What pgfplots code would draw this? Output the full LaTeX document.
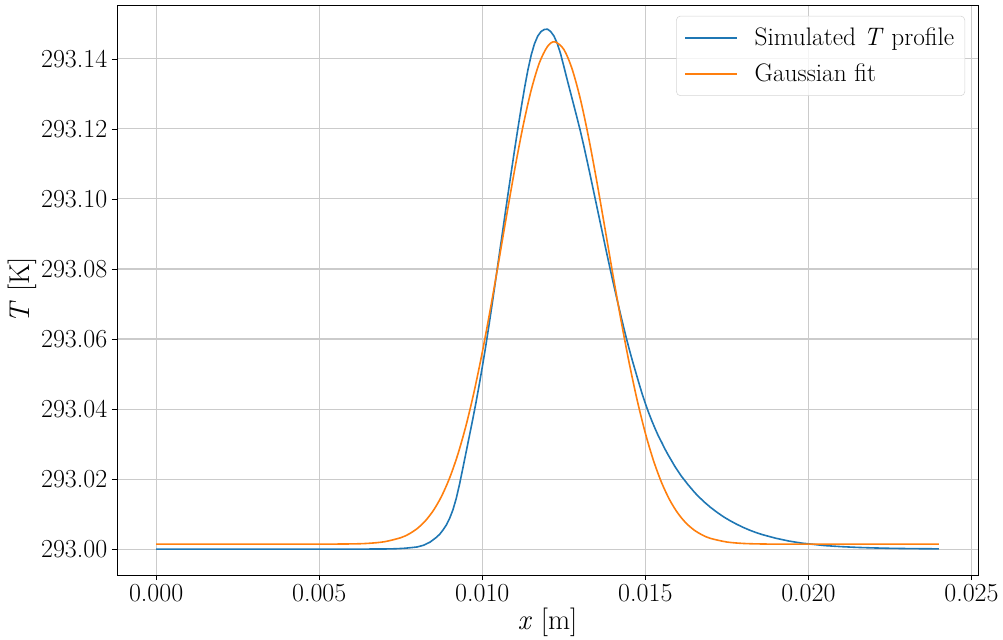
\documentclass[border=0pt]{standalone}
\usepackage{fontspec}
\usepackage{pgfplots}
\usepackage{pgfplotstable}
\pgfplotsset{compat=1.18}
\definecolor{tabblue}{HTML}{1F77B4}
\definecolor{taborange}{HTML}{FF7F0E}
\definecolor{gridgray}{HTML}{CBCBCB}
\definecolor{leggray}{HTML}{D5D5D5}

\pgfplotstableread{
x T
0.0000 293.0000
0.0020 293.0000
0.0040 293.0000
0.0060 293.0000
0.0065 293.00001
0.0070 293.00003
0.0072 293.00006
0.0074 293.00012
0.0076 293.00022
0.0078 293.0004
0.0080 293.0006
0.0082 293.0011
0.0084 293.0020
0.0086 293.0034
0.0087 293.0043
0.0088 293.0055
0.0089 293.0069
0.0090 293.0088
0.0091 293.0112
0.0092 293.0144
0.0093 293.0184
0.0094 293.0229
0.0095 293.0275
0.0096 293.0321
0.0097 293.0367
0.0098 293.0415
0.0099 293.0466
0.0100 293.0520
0.0101 293.0576
0.0102 293.0636
0.0103 293.0698
0.0104 293.0762
0.0105 293.0827
0.0106 293.0892
0.0107 293.0957
0.0108 293.1021
0.0109 293.1084
0.0110 293.1146
0.0111 293.1206
0.0112 293.1264
0.0113 293.1319
0.0114 293.1369
0.0115 293.1411
0.0116 293.1443
0.0117 293.1465
0.0118 293.1478
0.0119 293.1484
0.0120 293.1485
0.0121 293.1478
0.0122 293.1465
0.0123 293.1444
0.0124 293.1415
0.0125 293.1379
0.0126 293.1342
0.0127 293.1306
0.0128 293.1270
0.0129 293.1234
0.0130 293.1197
0.0131 293.1157
0.0132 293.1115
0.0133 293.1072
0.0134 293.1028
0.0135 293.0984
0.0136 293.0940
0.0137 293.0896
0.0138 293.0852
0.0139 293.0809
0.0140 293.0767
0.0141 293.0726
0.0142 293.0686
0.0143 293.0647
0.0144 293.0609
0.0145 293.0573
0.0146 293.0539
0.0147 293.0507
0.0148 293.0475
0.0149 293.0444
0.0150 293.0416
0.0151 293.0390
0.0152 293.0366
0.0153 293.0344
0.0154 293.0323
0.0155 293.0305
0.0156 293.0286
0.0157 293.0269
0.0158 293.0253
0.0159 293.0237
0.0160 293.0223
0.0161 293.0209
0.0162 293.0197
0.0163 293.0185
0.0164 293.0174
0.0165 293.0163
0.0166 293.0153
0.0168 293.0135
0.0170 293.0119
0.0172 293.0105
0.0174 293.0092
0.0176 293.0081
0.0178 293.0071
0.0180 293.0062
0.0182 293.0054
0.0184 293.0047
0.0186 293.0041
0.0188 293.0036
0.0190 293.0031
0.0192 293.0027
0.0194 293.0023
0.0196 293.0020
0.0198 293.0017
0.0200 293.0015
0.0202 293.0013
0.0205 293.0010
0.0210 293.0007
0.0215 293.00048
0.0220 293.00033
0.0225 293.00022
0.0230 293.00015
0.0235 293.0001
0.0240 293.00007
}\simdata

\pgfplotstableread{
x T
0.0000 293.0014
0.0040 293.0014
0.0050 293.00141
0.0060 293.00148
0.0065 293.00164
0.0070 293.00210
0.0075 293.00325
0.00775 293.0043
0.0080 293.00583
0.00825 293.00801
0.0085 293.01102
0.00875 293.01506
0.0090 293.02034
0.00925 293.02703
0.0095 293.03522
0.00975 293.04498
0.0100 293.05620
0.01025 293.06865
0.0105 293.08192
0.01075 293.09549
0.0110 293.10870
0.01125 293.12081
0.0115 293.13108
0.01175 293.13885
0.0120 293.14355
0.01222 293.1449
0.0125 293.14272
0.01275 293.13724
0.0130 293.12883
0.01325 293.11805
0.0135 293.10560
0.01375 293.09224
0.0140 293.07869
0.01425 293.06556
0.0145 293.05339
0.01475 293.04251
0.0150 293.03312
0.01525 293.02528
0.0155 293.01895
0.01575 293.01398
0.0160 293.01021
0.01625 293.00741
0.0165 293.00541
0.01675 293.00401
0.0170 293.00305
0.0175 293.00202
0.0180 293.00161
0.0185 293.00147
0.0190 293.00142
0.0200 293.0014
0.0240 293.0014
}\fitdata

\begin{document}
\begin{tikzpicture}
\begin{axis}[
  scale only axis,
  width=645.75pt, height=427.5pt,
  xmin=-0.0012, xmax=0.0252,
  ymin=292.9926, ymax=293.1554,
  y coord trafo/.code={\edef\pgfmathresult{\fpeval{#1-293}}},
  scaled x ticks=false, scaled y ticks=false,
  xtick={0,0.005,0.01,0.015,0.02,0.025},
  xticklabels={0.000,0.005,0.010,0.015,0.020,0.025},
  ytick={293,293.02,293.04,293.06,293.08,293.1,293.12,293.14},
  yticklabels={293.00,293.02,293.04,293.06,293.08,293.10,293.12,293.14},
  tick pos=left,
  tick align=outside,
  major tick length=3.75pt,
  tick style={black, line width=0.6pt},
  ticklabel style={font=\fontsize{19.5}{23}\selectfont},
  grid=major,
  major grid style={gridgray, line width=0.8pt},
  axis line style={black, line width=0.7pt},
  xlabel={\textit{x} [m]},
  ylabel={\textit{T} [K]},
  xlabel style={at={(axis description cs:0.5,-0.0825)}, anchor=center, font=\fontsize{21.5}{25}\selectfont},
  ylabel style={at={(axis description cs:-0.110,0.5)}, anchor=center, font=\fontsize{21.5}{25}\selectfont},
  legend style={at={(axis description cs:0.985,0.981)}, anchor=north east,
    draw=leggray, rounded corners=3pt, fill=white, fill opacity=0.8, text opacity=1,
    font=\fontsize{19}{23}\selectfont, inner xsep=6pt, inner ysep=7pt, row sep=8pt,
    /tikz/every odd column/.append style={column sep=10.5pt}},
  legend cell align=left,
  legend image code/.code={\draw[#1] (0pt,0pt) -- (39pt,0pt);},
]
\addplot[tabblue, line width=1.2pt] table[x=x, y=T] {\simdata};
\addlegendentry{Simulated \textit{T} profile}
\addplot[taborange, line width=1.2pt, smooth] table[x=x, y=T] {\fitdata};
\addlegendentry{Gaussian fit}
\end{axis}
\pgfresetboundingbox
\useasboundingbox (-87.75pt,-48pt) rectangle (664.5pt,431.25pt);
\end{tikzpicture}
\end{document}
